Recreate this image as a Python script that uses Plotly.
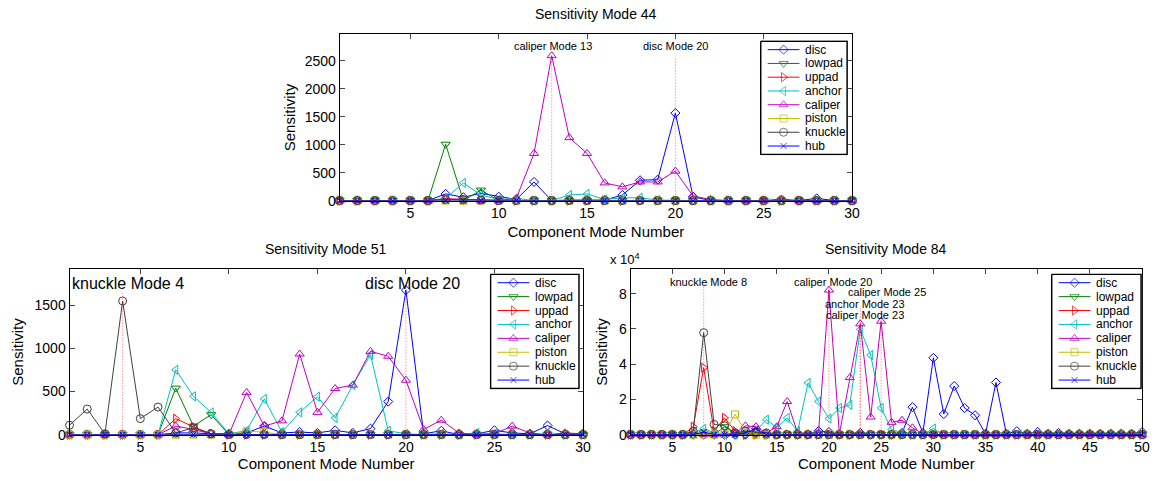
import plotly.graph_objects as go

W, H = 1161, 481

names = ["disc", "lowpad", "uppad", "anchor", "caliper", "piston", "knuckle", "hub"]
colors = ["#0000FF", "#008000", "#FF0000", "#00BFBF", "#BF00BF", "#BFBF00", "#404040", "#0000FF"]
symbols = ["diamond-open", "triangle-down-open", "triangle-right-open", "triangle-left-open",
           "triangle-up-open", "square-open", "circle-open", "x-thin-open"]
msizes = [7, 8, 8, 8, 8, 7, 8, 6]

# ---------------- Sensitivity Mode 44 (components 1..30) ----------------
modes_a = list(range(1, 31))
m44_disc    = [0,0,0,0,0,0,120,60,130,70,20,334,0,10,10,10,100,364,375,1567,70,0,0,0,0,0,0,40,0,0]
m44_lowpad  = [0,0,0,0,0,0,1009,0,188,0,0,0,0,0,0,0,0,0,0,0,0,0,0,0,0,0,0,0,0,0]
m44_uppad   = [0,0,0,0,0,0,30,20,10,0,0,0,0,0,0,0,0,0,0,0,0,0,0,0,0,0,0,0,0,0]
m44_anchor  = [0,0,0,0,0,0,40,317,100,20,40,0,0,100,120,20,50,50,10,0,0,0,0,0,0,0,0,0,0,0]
m44_caliper = [0,0,0,0,0,0,30,20,0,0,40,845,2594,1127,845,317,246,334,334,528,82,20,0,0,0,30,0,0,0,0]
m44_piston  = [0]*30
m44_knuckle = [0,0,0,0,0,0,20,20,10,0,0,0,0,0,0,0,0,0,0,0,0,0,0,0,0,0,0,0,0,0]
m44_hub     = [0]*30

# ---------------- Sensitivity Mode 51 (components 1..30) ----------------
m51_disc    = [0,0,0,0,0,0,20,20,10,10,20,100,20,30,20,50,20,70,384,1678,10,45,0,10,50,20,10,106,10,10]
m51_lowpad  = [0,0,0,0,0,0,540,99,232,0,0,0,0,0,0,0,0,0,0,0,0,0,0,0,0,0,0,0,0,0]
m51_uppad   = [0,0,0,0,0,0,185,91,10,0,0,0,0,0,0,0,0,0,0,0,0,0,0,0,0,0,0,0,0,0]
m51_anchor  = [0,0,0,0,0,0,753,445,258,10,46,415,30,259,441,194,575,928,45,10,0,10,0,20,10,0,0,0,0,0]
m51_caliper = [0,0,0,0,0,0,100,60,10,0,490,100,160,936,259,536,575,967,910,632,61,168,20,0,10,99,20,0,20,10]
m51_piston  = [0,0,0,0,0,0,0,0,0,0,40,30,0,0,0,0,0,0,0,0,0,0,0,0,0,0,0,0,0,0]
m51_knuckle = [110,297,10,1552,186,320,20,80,10,0,0,0,0,0,0,0,0,0,0,0,0,0,0,0,0,0,0,0,0,0]
m51_hub     = [0]*30

# ---------------- Sensitivity Mode 84 (components 1..50, x 10^4) ----------------
modes_b = list(range(1, 51))
m84_disc    = [0,0,0,0,0,0,0,0,0,0,0,0,0.1,0,0,0,0,0,0.2,0.15,0,0,0.1,0,0,0,0.1,1.56,0.1,4.36,
               1.17,2.76,1.51,1.1,0.05,2.96,0.05,0.2,0.05,0.15,0.05,0.1,0.05,0.05,0.05,0.05,0.05,0.05,0.05,0.15]
m84_lowpad  = [0,0,0,0,0,0,0,0.1,0,0.45,0.1] + [0]*39
m84_uppad   = [0,0,0,0,0,0,0.45,3.8,0.2,0.95,0.2] + [0]*39
m84_anchor  = [0,0,0,0,0,0,0.1,0.33,0.1,0,0,0.1,0.2,0.85,0.4,0.95,0.2,2.94,1.88,0.91,
               1.51,1.69,5.98,4.52,1.51,0.3,0.1,0,0,0.35] + [0]*20
m84_caliper = [0,0,0,0,0,0,0.1,0,0,0,0.1,0.5,0.45,0.1,0.45,1.88,0.1,0.05,0.1,8.21,
               0.05,3.24,6.29,1.0,6.44,0.7,0.82,0.39,0.05,0] + [0]*20
m84_piston  = [0,0,0,0,0,0,0,0,0,0.1,1.15,0.2] + [0]*38
m84_knuckle = [0,0,0,0,0,0,0.2,5.79,0.58,0.5,0.1,0.2,0.15,0.1] + [0]*36
m84_hub     = [0,0,0,0,0,0,0,0.15,0,0,0,0.1,0.35] + [0]*37

series44 = [m44_disc, m44_lowpad, m44_uppad, m44_anchor, m44_caliper, m44_piston, m44_knuckle, m44_hub]
series51 = [m51_disc, m51_lowpad, m51_uppad, m51_anchor, m51_caliper, m51_piston, m51_knuckle, m51_hub]
series84 = [m84_disc, m84_lowpad, m84_uppad, m84_anchor, m84_caliper, m84_piston, m84_knuckle, m84_hub]

# peak labels: (text, mode marked, label x, label y, line top)
labels44 = [("caliper Mode 13", 13, 13.05, 2764, 2570), ("disc Mode 20", 20, 20.0, 2764, 2570)]
labels51 = [("knuckle Mode 4", 4, 4.3, 1758, 1660), ("disc Mode 20", 20, 20.35, 1758, 1660)]
labels84 = [("knuckle Mode 8", 8, 8.48, 8.66, 8.4), ("caliper Mode 20", 20, 20.43, 8.66, 8.4),
            ("caliper Mode 25", 25, 25.57, 8.1, 7.85), ("anchor Mode 23", 23, 23.5, 7.43, 7.2),
            ("caliper Mode 23", 23, 23.5, 6.8, 6.6)]

FONT = "Liberation Sans, Arial, Helvetica, sans-serif"

fig = go.Figure()


def xd(l, r):
    return [l / W, r / W]


def yd(t, b):
    return [1 - b / H, 1 - t / H]


panels = [
    # idx, box(l,t,r,b), modes, series, xrange, yrange, xticks, yticks, title, labels, labelfont,
    # legendbox, ytitle standoff, xtitle standoff
    (1, (342, 35, 858, 204), modes_a, series44, [1, 30], [0, 2975], list(range(5, 31, 5)),
     [0, 500, 1000, 1500, 2000, 2500], "Sensitivity Mode 44", labels44, 11, (766, 42, 853, 157), 5, 6),
    (2, (70, 274, 587, 442), modes_a, series51, [1, 30], [0, 1918], list(range(5, 31, 5)),
     [0, 500, 1000, 1500], "Sensitivity Mode 51", labels51, 16, (494, 279, 583, 395), 7, 2),
    (3, (635, 274, 1150, 442), modes_b, series84, [1, 50], [0, 9.38], list(range(5, 51, 5)),
     [0, 2, 4, 6, 8], "Sensitivity Mode 84", labels84, 11, (1059, 279, 1149, 395), 7, 2),
]

layout_axes = {}
for idx, (l, t, r, b), modes, series, xr, yr, xt, yt, title, labels, lfs, lbox, ysoff, xsoff in panels:
    sfx = "" if idx == 1 else str(idx)
    layout_axes["xaxis" + sfx] = dict(
        domain=xd(l, r), range=xr, anchor="y" + sfx, tickvals=xt, ticks="inside", ticklen=5,
        mirror="ticks", showline=True, linecolor="black", linewidth=1, showgrid=False,
        zeroline=False, tickfont=dict(size=14, color="black", family=FONT),
        title=dict(text="Component Mode Number", font=dict(size=15, color="black", family=FONT),
                   standoff=xsoff))
    layout_axes["yaxis" + sfx] = dict(
        domain=yd(t, b), range=yr, anchor="x" + sfx, tickvals=yt, ticks="inside", ticklen=5,
        mirror="ticks", showline=True, linecolor="black", linewidth=1, showgrid=False,
        zeroline=False, tickfont=dict(size=14, color="black", family=FONT),
        title=dict(text="Sensitivity", font=dict(size=15, color="black", family=FONT), standoff=ysoff))

    for name, col, sym, ms, vals in zip(names, colors, symbols, msizes, series):
        fig.add_trace(go.Scatter(
            x=modes, y=vals, name=name, mode="lines+markers", xaxis="x" + sfx, yaxis="y" + sfx,
            line=dict(color=col, width=1),
            marker=dict(symbol=sym, size=ms, color=col, line=dict(color=col, width=1)),
            cliponaxis=False, showlegend=False))

    for text, m, lx, ly, ltop in labels:
        fig.add_shape(type="line", xref="x" + sfx, yref="y" + sfx, x0=m, x1=m, y0=0, y1=ltop,
                      line=dict(color="rgba(255,0,0,0.6)", width=1, dash="1px,2px"))
        fig.add_annotation(x=lx, y=ly, xref="x" + sfx, yref="y" + sfx, text=text, showarrow=False,
                           xanchor="center", yanchor="middle",
                           font=dict(size=lfs, color="black", family=FONT))

    fig.add_annotation(x=(l + r) / 2 / W, y=1 - (t - 21) / H, xref="paper", yref="paper", text=title,
                       showarrow=False, xanchor="center", yanchor="middle",
                       font=dict(size=14, color="black", family=FONT))

    # hand-drawn legend box in its own axes
    li = idx + 3
    lw, lh = lbox[2] - lbox[0], lbox[3] - lbox[1]
    layout_axes["xaxis%d" % li] = dict(domain=xd(lbox[0] - 1, lbox[2] + 1), range=[-1, lw + 1],
                                       anchor="y%d" % li, visible=False)
    layout_axes["yaxis%d" % li] = dict(domain=yd(lbox[1] - 1, lbox[3] + 1), range=[lh + 1, -1],
                                       anchor="x%d" % li, visible=False)
    fig.add_trace(go.Scatter(x=[0, lw, lw, 0, 0], y=[0, 0, lh, lh, 0], mode="lines", fill="toself",
                             fillcolor="white", line=dict(color="black", width=1.5),
                             xaxis="x%d" % li, yaxis="y%d" % li, showlegend=False, hoverinfo="skip"))
    step = (lh - 17) / 7.0
    for i, (name, col, sym, ms) in enumerate(zip(names, colors, symbols, msizes)):
        yy = 8.5 + i * step
        fig.add_trace(go.Scatter(
            x=[7, 23, 39], y=[yy] * 3, mode="lines+markers", xaxis="x%d" % li, yaxis="y%d" % li,
            line=dict(color=col, width=1),
            marker=dict(symbol=sym, size=[0, ms, 0], color=col, line=dict(color=col, width=1)),
            showlegend=False, hoverinfo="skip"))
        fig.add_annotation(x=43, y=yy, xref="x%d" % li, yref="y%d" % li, text=name, showarrow=False,
                           xanchor="left", yanchor="middle",
                           font=dict(size=12, color="black", family=FONT))

fig.add_annotation(x=612 / W, y=1 - 263 / H, xref="paper", yref="paper", text="x 10<sup>4</sup>",
                   showarrow=False, xanchor="left", yanchor="middle",
                   font=dict(size=13, color="black", family=FONT))

fig.update_layout(
    autosize=True, margin=dict(l=0, r=0, t=0, b=0),
    paper_bgcolor="white", plot_bgcolor="white", showlegend=False,
    font=dict(family=FONT, color="black"),
    **layout_axes)

fig.write_html(
    "out.html", config={"displayModeBar": False, "responsive": True},
    default_width="100vw", default_height="100vh",
    post_script=("document.documentElement.style.margin='0';"
                 "document.documentElement.style.overflow='hidden';"
                 "document.body.style.margin='0';document.body.style.padding='0';"
                 "document.body.style.overflow='hidden';"))
